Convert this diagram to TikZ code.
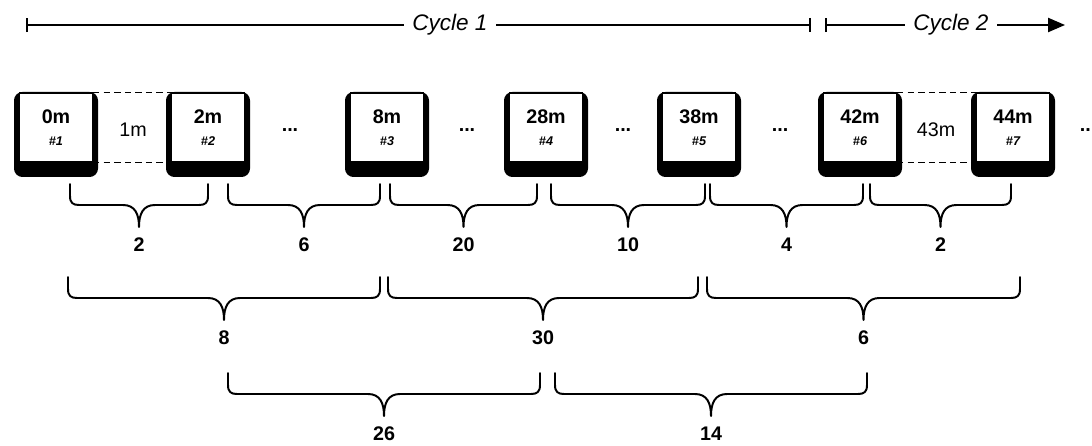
\documentclass[tikz,border=0pt]{standalone}
\usepackage{fontspec}
\setmainfont{Liberation Sans}
\usepackage{tikz}
\usetikzlibrary{arrows.meta}

% one curly brace under a stretch, with its value below
\newcommand\gapbrace[4]{%
  \pgfmathsetmacro\xm{(#1+#2)/2}
  \draw[curly] (#1,#3) -- (#1,#3+12)
    .. controls (#1,#3+19) and (#1+3,#3+21) .. (#1+9,#3+21)
    -- (\xm-16,#3+21)
    .. controls (\xm-4,#3+21) and (\xm,#3+30) .. (\xm,#3+43)
    .. controls (\xm,#3+30) and (\xm+4,#3+21) .. (\xm+16,#3+21)
    -- (#2-9,#3+21)
    .. controls (#2-3,#3+21) and (#2,#3+19) .. (#2,#3+12)
    -- (#2,#3);
  \node[val] at (\xm,#3+61) {#4};
}

\begin{document}
\begin{tikzpicture}[x=0.025cm,y=-0.025cm,
    tape/.style={draw,fill=white,line width=0.9pt,minimum width=1.825cm,
      minimum height=1.72cm,inner sep=0pt,align=center,
      font=\bfseries\fontsize{14}{15}\selectfont},
    gapline/.style={line width=1.3pt,dash pattern=on 4.5pt off 3pt},
    cyc/.style={inner xsep=6pt,font=\itshape\fontsize{16}{18}\selectfont},
    cycline/.style={line width=1.3pt},
    curly/.style={line width=1.4pt,line join=round,line cap=round},
    val/.style={font=\bfseries\fontsize{14}{16}\selectfont},
    dots/.style={font=\bfseries\fontsize{14}{15}\selectfont},
    mins/.style={font=\fontsize{14}{15}\selectfont}]
  \useasboundingbox (0,0) rectangle (1092,446);

  % cycles
  \coordinate (c1a) at (26,25);
  \node[cyc] (c1) at (450,25) {Cycle 1};
  \coordinate (c1b) at (811,25);
  \coordinate (c2a) at (825,25);
  \node[cyc] (c2) at (951,25) {Cycle 2};
  \coordinate (c2b) at (1065,25);
  \draw[cycline,{Bar[width=10pt]}-] (c1a) -- (c1.west);
  \draw[cycline,-{Bar[width=10pt]}] (c1.east) -- (c1b);
  \draw[cycline,{Bar[width=10pt]}-] (c2a) -- (c2.west);
  \draw[cycline,-{Triangle[length=12pt,width=10pt]}] (c2.east) -- (c2b);

  % tapes
  \foreach \x/\t/\n [count=\i] in {56/0m/1,208/2m/2,387/8m/3,546/28m/4,
      699/38m/5,860/42m/6,1013/44m/7} {
    \fill[rounded corners=6pt] (\x-42,92) rectangle (\x+42,177);
    \node[tape] (b\i) at (\x,127.5) {\t\\[1pt]{\fontsize{9}{10}\selectfont\itshape\#\n}};
  }

  % skipped minutes
  \draw[gapline] (b1.north east) -- (b2.north west);
  \draw[gapline] (b1.south east) -- (b2.south west);
  \node[mins] (m1) at (133,130) {1m};
  \draw[gapline] (b6.north east) -- (b7.north west);
  \draw[gapline] (b6.south east) -- (b7.south west);
  \node[mins] (m2) at (936,130) {43m};

  \node[dots] (d1) at (290,130) {...};
  \node[dots] (d2) at (467,130) {...};
  \node[dots] (d3) at (623,130) {...};
  \node[dots] (d4) at (780,130) {...};
  \node[dots] (d5) at (1088,130) {...};

  % gaps
  \gapbrace{70}{208}{184}{2}
  \gapbrace{228}{380}{184}{6}
  \gapbrace{390}{537}{184}{20}
  \gapbrace{551}{705}{184}{10}
  \gapbrace{710}{863}{184}{4}
  \gapbrace{870}{1011}{184}{2}

  \gapbrace{68}{380}{277}{8}
  \gapbrace{388}{698}{277}{30}
  \gapbrace{707}{1020}{277}{6}

  \gapbrace{228}{540}{373}{26}
  \gapbrace{555}{867}{373}{14}
\end{tikzpicture}
\end{document}
